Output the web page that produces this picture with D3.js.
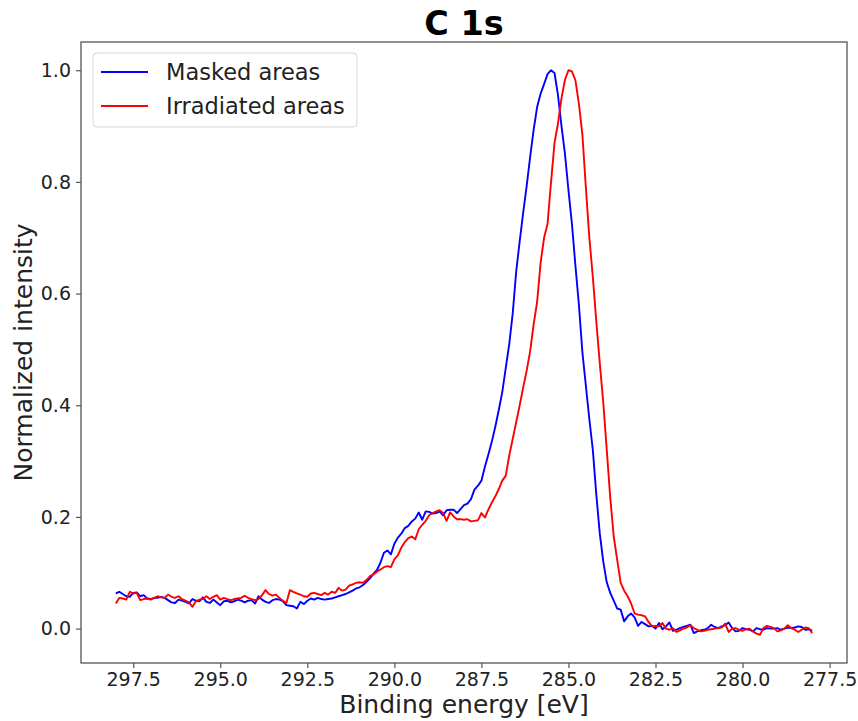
<!DOCTYPE html>
<html>
<head>
<meta charset="utf-8">
<script src="https://cdn.jsdelivr.net/npm/d3@7"></script>
<style>
  html, body { margin: 0; padding: 0; background: #fff; }
  svg { display: block; font-family: "DejaVu Sans", sans-serif; }
</style>
</head>
<body>
<script>
// C 1s XPS spectra, normalised, sampled every 0.1 eV from 298.0 eV down to 278.0 eV
const energyStart = 298.0;
const energyStep = -0.1;

const maskedAreas = [
  0.063, 0.066, 0.062, 0.058, 0.057, 0.064, 0.065, 0.058, 0.060, 0.054,
  0.053, 0.055, 0.055, 0.057, 0.055, 0.051, 0.047, 0.046, 0.052, 0.050,
  0.048, 0.045, 0.053, 0.050, 0.049, 0.056, 0.048, 0.046, 0.052, 0.047,
  0.042, 0.049, 0.050, 0.047, 0.049, 0.052, 0.050, 0.047, 0.050, 0.051,
  0.045, 0.058, 0.052, 0.048, 0.046, 0.051, 0.053, 0.052, 0.049, 0.042,
  0.041, 0.040, 0.036, 0.048, 0.044, 0.050, 0.054, 0.052, 0.055, 0.053,
  0.052, 0.053, 0.054, 0.056, 0.058, 0.060, 0.062, 0.065, 0.068, 0.072,
  0.074, 0.078, 0.084, 0.090, 0.098, 0.105, 0.118, 0.136, 0.140, 0.133,
  0.152, 0.163, 0.170, 0.180, 0.184, 0.192, 0.197, 0.208, 0.195, 0.210,
  0.209, 0.206, 0.207, 0.210, 0.203, 0.212, 0.213, 0.213, 0.207, 0.214,
  0.221, 0.224, 0.232, 0.249, 0.256, 0.265, 0.290, 0.312, 0.335, 0.362,
  0.392, 0.424, 0.467, 0.510, 0.565, 0.640, 0.694, 0.745, 0.793, 0.845,
  0.893, 0.934, 0.958, 0.975, 0.993, 1.000, 0.995, 0.955, 0.900, 0.850,
  0.785, 0.725, 0.650, 0.580, 0.495, 0.435, 0.375, 0.320, 0.240, 0.170,
  0.120, 0.083, 0.064, 0.050, 0.036, 0.034, 0.013, 0.022, 0.027, 0.020,
  0.005, 0.012, 0.008, 0.004, 0.005, 0.000, 0.010, -0.001, 0.004, 0.011,
  -0.004, -0.002, 0.001, 0.003, 0.005, 0.007, -0.008, -0.005, -0.003, -0.002,
  0.001, 0.007, 0.003, 0.001, 0.004, 0.006, 0.011, 0.001, -0.005, -0.004,
  0.001, -0.001, -0.002, -0.005, 0.001, -0.001, -0.002, 0.001, 0.000, 0.000,
  0.001, -0.002, 0.000, 0.002, 0.001, 0.002, 0.004, 0.003, -0.002, -0.001,
  -0.004
];

const irradiatedAreas = [
  0.045, 0.055, 0.054, 0.052, 0.066, 0.063, 0.064, 0.051, 0.053, 0.054,
  0.052, 0.055, 0.058, 0.056, 0.055, 0.061, 0.057, 0.055, 0.058, 0.053,
  0.050, 0.047, 0.039, 0.049, 0.052, 0.053, 0.058, 0.053, 0.057, 0.060,
  0.052, 0.055, 0.053, 0.051, 0.053, 0.054, 0.055, 0.059, 0.055, 0.053,
  0.051, 0.053, 0.060, 0.069, 0.062, 0.059, 0.061, 0.055, 0.050, 0.046,
  0.069, 0.066, 0.063, 0.061, 0.058, 0.057, 0.063, 0.064, 0.062, 0.060,
  0.064, 0.061, 0.066, 0.064, 0.073, 0.068, 0.070, 0.077, 0.079, 0.082,
  0.083, 0.082, 0.087, 0.094, 0.097, 0.102, 0.106, 0.110, 0.112, 0.110,
  0.124, 0.131, 0.145, 0.155, 0.162, 0.165, 0.160, 0.178, 0.186, 0.193,
  0.203, 0.207, 0.210, 0.212, 0.207, 0.193, 0.208, 0.201, 0.196, 0.196,
  0.195, 0.196, 0.192, 0.193, 0.194, 0.207, 0.199, 0.213, 0.226, 0.237,
  0.250, 0.265, 0.274, 0.310, 0.340, 0.370, 0.400, 0.432, 0.462, 0.497,
  0.545, 0.585, 0.655, 0.700, 0.725, 0.800, 0.870, 0.905, 0.950, 0.983,
  1.000, 0.998, 0.982, 0.940, 0.885, 0.790, 0.700, 0.630, 0.550, 0.475,
  0.405, 0.320, 0.235, 0.165, 0.123, 0.082, 0.068, 0.058, 0.045, 0.027,
  0.025, 0.024, 0.022, 0.012, 0.004, 0.005, 0.004, 0.010, 0.000, -0.002,
  0.001, -0.006, -0.003, 0.000, 0.002, 0.006, 0.001, -0.002, -0.005, -0.004,
  -0.002, -0.001, 0.000, 0.001, 0.002, 0.009, -0.006, 0.000, 0.001, -0.002,
  -0.004, -0.001, 0.000, -0.005, -0.009, -0.011, 0.001, 0.005, 0.003, 0.001,
  -0.005, -0.003, 0.000, 0.006, 0.001, -0.002, -0.006, -0.002, 0.002, 0.001,
  -0.008
];

const seriesNames = ["Masked areas", "Irradiated areas"];
const seriesColors = ["#0000ff", "#ff0000"];
const xTickValues = [297.5, 295.0, 292.5, 290.0, 287.5, 285.0, 282.5, 280.0, 277.5];
const yTickValues = [0.0, 0.2, 0.4, 0.6, 0.8, 1.0];

const chartTitle = "C 1s";
const xLabel = "Binding energy [eV]";
const yLabel = "Normalized intensity";

// ---- layout ----
const W = 858, H = 721;
const plot = { left: 81, right: 847, top: 42, bottom: 663 };

const energies = maskedAreas.map((_, i) => +(energyStart + i * energyStep).toFixed(1));
const series = [maskedAreas, irradiatedAreas].map((vals, k) => ({
  name: seriesNames[k],
  color: seriesColors[k],
  points: vals.map((v, i) => [energies[i], v])
}));

// 5 % padding on both axes around the data extent
function padded(ext) {
  const p = (ext[1] - ext[0]) * 0.05;
  return [ext[0] - p, ext[1] + p];
}
const xExt = padded(d3.extent(energies));
const yExt = padded(d3.extent(maskedAreas.concat(irradiatedAreas)));

// binding energy axis runs from high to low
const x = d3.scaleLinear().domain([xExt[1], xExt[0]]).range([plot.left, plot.right]);
const y = d3.scaleLinear().domain(yExt).range([plot.bottom, plot.top]);

const svg = d3.select("body").append("svg")
  .attr("width", W).attr("height", H);

svg.append("rect").attr("width", W).attr("height", H).attr("fill", "#fff");

// curves
const line = d3.line().x(d => x(d[0])).y(d => y(d[1]));
svg.append("g").selectAll("path")
  .data(series)
  .join("path")
  .attr("d", d => line(d.points))
  .attr("fill", "none")
  .attr("stroke", d => d.color)
  .attr("stroke-width", 1.9)
  .attr("stroke-linejoin", "round");

// axes
const tickColor = "#555";
const xAxis = svg.append("g")
  .attr("transform", `translate(0,${plot.bottom})`)
  .call(d3.axisBottom(x).tickValues(xTickValues).tickFormat(d3.format(".1f"))
    .tickSize(5).tickPadding(5));
const yAxis = svg.append("g")
  .attr("transform", `translate(${plot.left},0)`)
  .call(d3.axisLeft(y).tickValues(yTickValues).tickFormat(d3.format(".1f"))
    .tickSize(5).tickPadding(5));

[xAxis, yAxis].forEach(g => {
  g.select(".domain").remove();
  g.selectAll(".tick line").attr("stroke", tickColor).attr("stroke-width", 1.2);
  g.selectAll(".tick text")
    .attr("fill", "#222")
    .style("font-family", "'DejaVu Sans', sans-serif")
    .style("font-size", "19px");
});

// frame
svg.append("rect")
  .attr("x", plot.left).attr("y", plot.top)
  .attr("width", plot.right - plot.left).attr("height", plot.bottom - plot.top)
  .attr("fill", "none").attr("stroke", tickColor).attr("stroke-width", 1.3);

// title
svg.append("text")
  .attr("x", (plot.left + plot.right) / 2).attr("y", 35)
  .attr("text-anchor", "middle")
  .attr("font-weight", "bold").attr("font-size", 33.5)
  .attr("fill", "#000")
  .text(chartTitle);

// axis labels
svg.append("text")
  .attr("x", (plot.left + plot.right) / 2).attr("y", 713)
  .attr("text-anchor", "middle").attr("font-size", 25).attr("fill", "#222")
  .text(xLabel);

svg.append("text")
  .attr("transform", `translate(32,${(plot.top + plot.bottom) / 2}) rotate(-90)`)
  .attr("text-anchor", "middle").attr("font-size", 25).attr("fill", "#222")
  .text(yLabel);

// legend
const legend = svg.append("g").attr("transform", "translate(93,53)");
legend.append("rect")
  .attr("width", 264).attr("height", 74).attr("rx", 4)
  .attr("fill", "#fff").attr("fill-opacity", 0.8)
  .attr("stroke", "#d6d6d6").attr("stroke-width", 1);
const items = legend.selectAll("g.item").data(series).join("g")
  .attr("class", "item")
  .attr("transform", (d, i) => `translate(0,${19 + i * 34})`);
items.append("line")
  .attr("x1", 8).attr("x2", 55)
  .attr("stroke", d => d.color).attr("stroke-width", 1.9);
items.append("text")
  .attr("x", 73).attr("y", 8)
  .attr("font-size", 22.5).attr("fill", "#222")
  .text(d => d.name);
</script>
</body>
</html>
